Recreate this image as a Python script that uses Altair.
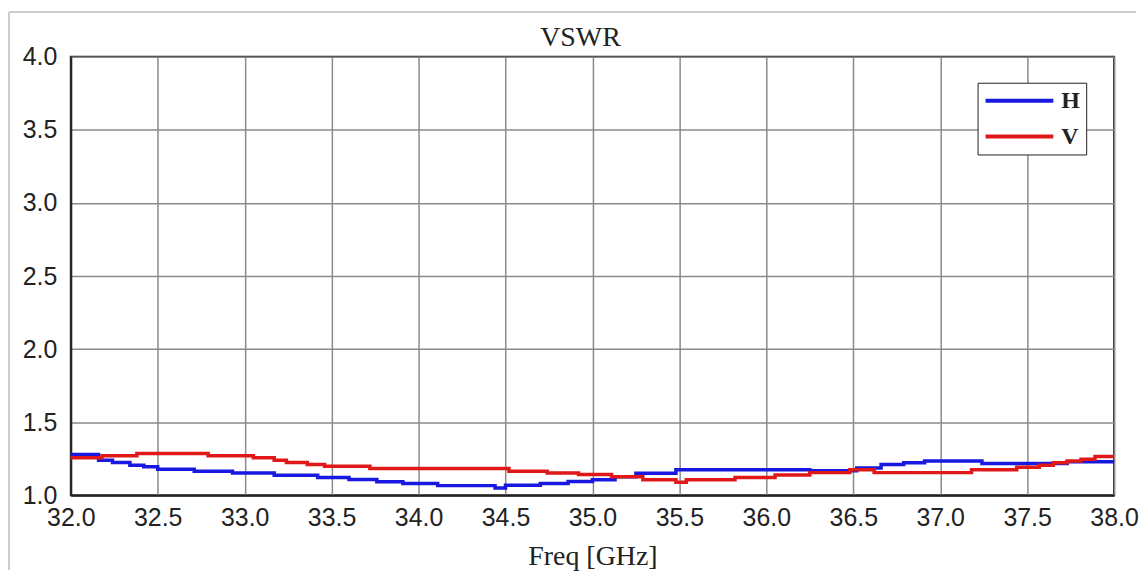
import altair as alt
import pandas as pd

# Series H (blue) - step points
h_freq = [32.00, 32.16, 32.24, 32.34, 32.42, 32.50, 32.71, 32.93, 33.17, 33.42,
          33.60, 33.76, 33.91, 34.11, 34.44, 34.50, 34.70, 34.86, 35.00, 35.13,
          35.25, 35.48, 36.25, 36.52, 36.66, 36.79, 36.91, 37.24, 37.73, 38.00]
h_vswr = [1.279, 1.240, 1.224, 1.206, 1.195, 1.178, 1.165, 1.153, 1.137, 1.121,
          1.108, 1.092, 1.080, 1.066, 1.050, 1.069, 1.080, 1.095, 1.106, 1.126,
          1.150, 1.174, 1.167, 1.186, 1.210, 1.222, 1.234, 1.217, 1.229, 1.229]

# Series V (red)
v_freq = [32.00, 32.18, 32.38, 32.79, 33.05, 33.17, 33.24, 33.36, 33.46, 33.72,
          34.52, 34.74, 34.92, 35.11, 35.29, 35.48, 35.54, 35.82, 36.05, 36.25,
          36.48, 36.62, 37.18, 37.44, 37.57, 37.65, 37.73, 37.81, 37.89, 38.00]
v_vswr = [1.256, 1.270, 1.286, 1.270, 1.256, 1.240, 1.224, 1.210, 1.199, 1.183,
          1.165, 1.153, 1.142, 1.126, 1.106, 1.089, 1.106, 1.121, 1.138, 1.155,
          1.174, 1.155, 1.174, 1.191, 1.205, 1.222, 1.234, 1.246, 1.265, 1.265]

series_names = ["H", "V"]
series_colors = ["#1818e0", "#e01818"]
x_ticks = [32.0, 32.5, 33.0, 33.5, 34.0, 34.5, 35.0, 35.5, 36.0, 36.5, 37.0, 37.5, 38.0]
y_ticks = [1.0, 1.5, 2.0, 2.5, 3.0, 3.5, 4.0]
chart_title = "VSWR"

df = pd.concat([
    pd.DataFrame({"freq": h_freq, "vswr": h_vswr, "series": "H"}),
    pd.DataFrame({"freq": v_freq, "vswr": v_vswr, "series": "V"}),
])

W, H = 1047, 440
TICK_FONT = "Liberation Sans, Arial, sans-serif"
SERIF = "Liberation Serif, DejaVu Serif, serif"

lines = alt.Chart(df).mark_line(interpolate="step-after", strokeWidth=3.5).encode(
    x=alt.X("freq:Q",
            scale=alt.Scale(domain=[32, 38], nice=False, zero=False),
            axis=alt.Axis(values=x_ticks, format=".1f", title="Freq [GHz]",
                          labelFlush=False, labelPadding=10, titlePadding=12)),
    y=alt.Y("vswr:Q",
            scale=alt.Scale(domain=[1, 4], nice=False, zero=False),
            axis=alt.Axis(values=y_ticks, format=".1f", title=None,
                          labelFlush=False, labelPadding=14, labelBaseline="middle")),
    color=alt.Color("series:N",
                    scale=alt.Scale(domain=series_names, range=series_colors),
                    legend=alt.Legend(title=None, orient="none", legendX=910, legendY=26,
                                      symbolType="M-1,0H5.8", symbolSize=400,
                                      symbolStrokeWidth=4, labelOffset=54,
                                      strokeColor="#222222", fillColor="white",
                                      padding=6, rowPadding=12,
                                      labelFont=SERIF, labelFontWeight="bold",
                                      labelFontSize=24, labelColor="#222222")),
)

frame_df = pd.DataFrame({"k": [0]})
left_border = alt.Chart(frame_df).mark_rule(color="#cccccc", strokeWidth=2).encode(
    x=alt.value(-62), y=alt.value(-45), y2=alt.value(H + 75))
top_border = alt.Chart(frame_df).mark_rule(color="#cccccc", strokeWidth=2).encode(
    x=alt.value(-62), x2=alt.value(W + 22), y=alt.value(-45))
title_text = alt.Chart(frame_df).mark_text(
    text=chart_title, font=SERIF, fontSize=28, color="#222222",
    align="center", baseline="alphabetic").encode(
    x=alt.value(W / 2 - 12), y=alt.value(-11))

chart = alt.layer(left_border, top_border, title_text, lines).properties(
    width=W, height=H,
    padding={"left": 0, "top": 2, "right": 0, "bottom": 0},
    background="white",
).configure_view(
    stroke="#222222", strokeWidth=2
).configure_axis(
    grid=True, gridColor="#8a8a8a", gridWidth=1.5,
    domainColor="#222222", domainWidth=2, ticks=False,
    labelFont=TICK_FONT, labelFontSize=25, labelColor="#222222",
    titleFont=SERIF, titleFontSize=28, titleFontWeight="normal", titleColor="#222222",
)

chart.save("out.html", embed_options={"renderer": "svg", "actions": False})
